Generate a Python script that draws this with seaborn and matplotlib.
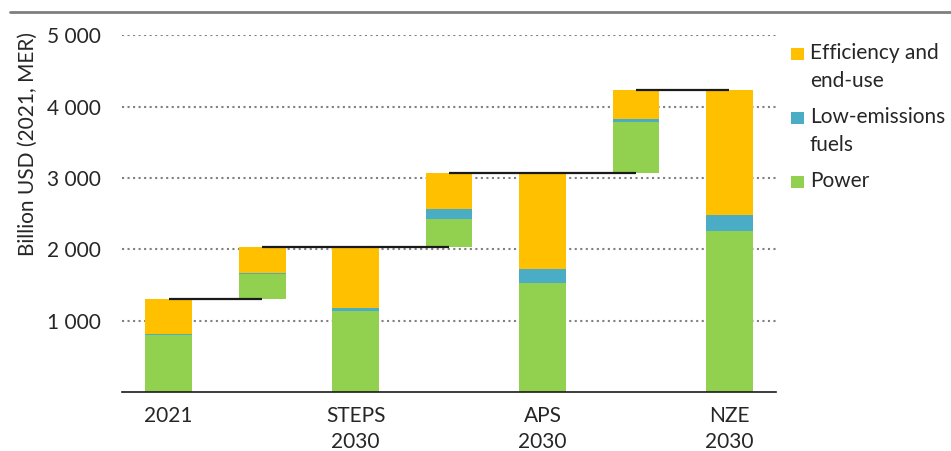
import numpy as np
import seaborn as sns
import matplotlib.pyplot as plt
from matplotlib.lines import Line2D
from matplotlib.patches import Rectangle
from matplotlib.ticker import FixedLocator, FuncFormatter

# --- dados (bilhões USD 2021, MER) ---
keys = ["2021", "d1", "STEPS", "d2", "APS", "d3", "NZE"]
tick_labels = ["2021", "", "STEPS\n2030", "", "APS\n2030", "", "NZE\n2030"]
is_step = [False, True, False, True, False, True, False]

power = [800, 350, 1145, 395, 1530, 725, 2255]
low_emissions = [15, 20, 40, 135, 190, 43, 230]
efficiency = [485, 365, 850, 500, 1345, 401, 1750]

series_names = ["Power", "Low-emissions\nfuels", "Efficiency and\nend-use"]
series_colors = ["#92D050", "#4BACC6", "#FFC000"]

# --- base das barras de variação (topo da barra anterior) ---
totals = np.array(power) + np.array(low_emissions) + np.array(efficiency)
base = np.zeros(len(keys))
for i, step in enumerate(is_step):
    if step:
        base[i] = base[i - 1] + totals[i - 1]
tops = base + totals

sns.set_style("white")
plt.rcParams['font.family'] = ['Lato', 'DejaVu Sans']
FS = 15

fig = plt.figure(figsize=(9.51, 4.51), dpi=100)
ax = fig.add_axes([0.1283, 0.1302, 0.6877, 0.7933])

# barras empilhadas
bottom = base.copy()
for vals, col in zip([power, low_emissions, efficiency], series_colors):
    sns.barplot(x=keys, y=vals, order=keys, color=col, saturation=1,
                width=0.5, bottom=bottom, errorbar=None, linewidth=0, ax=ax)
    bottom = bottom + np.array(vals)

# linhas de ligação
anchors = [0] + [i for i, s in enumerate(is_step) if s] + [len(keys) - 1]
for a, b in zip(anchors[:-1], anchors[1:]):
    ax.hlines(tops[a], a, b, color="#1a1a1a", lw=1.6, zorder=5)

# eixos
ax.set_xlim(-0.5, 6.5)
ax.set_ylim(0, 5010)
ax.yaxis.set_major_locator(FixedLocator([1000, 2000, 3000, 4000, 5000]))
ax.yaxis.set_major_formatter(FuncFormatter(lambda v, p: f"{v:,.0f}".replace(",", " ")))
ax.set_xticks(range(len(keys)))
ax.set_xticklabels(tick_labels, fontsize=FS, linespacing=1.38)
ax.tick_params(axis='x', length=0, pad=10)
ax.tick_params(axis='y', length=0, pad=15, labelsize=FS)
ax.set_xlabel("")
ax.set_ylabel("Billion USD (2021, MER)", fontsize=FS)
ax.yaxis.set_label_coords(-0.128, 0.695)

ax.yaxis.grid(True, linestyle=':', color='#808080', lw=1.5)
ax.xaxis.grid(False)
ax.set_axisbelow(True)
for s in ["top", "right", "left"]:
    ax.spines[s].set_visible(False)
ax.spines["bottom"].set_color("#1a1a1a")
ax.spines["bottom"].set_linewidth(1.2)

# linha cinza do topo
fig.add_artist(Line2D([10 / 951, 1.0], [1 - 11.7 / 451] * 2, color="#7f7f7f", lw=2,
                      transform=fig.transFigure))

# legenda manual (ordem inversa do empilhamento)
W, H = 951, 451
leg_y = [54, 118, 182]
for name, col, yc in zip(series_names[::-1], series_colors[::-1], leg_y):
    fig.add_artist(Rectangle((791 / W, 1 - (yc + 6) / H), 12.5 / W, 12.5 / H,
                             facecolor=col, edgecolor="none", transform=fig.transFigure))
    fig.text(810 / W, 1 - (yc - 11) / H, name, fontsize=FS, va="top", ha="left",
             linespacing=1.5)

fig.savefig("out.png", dpi=100)
